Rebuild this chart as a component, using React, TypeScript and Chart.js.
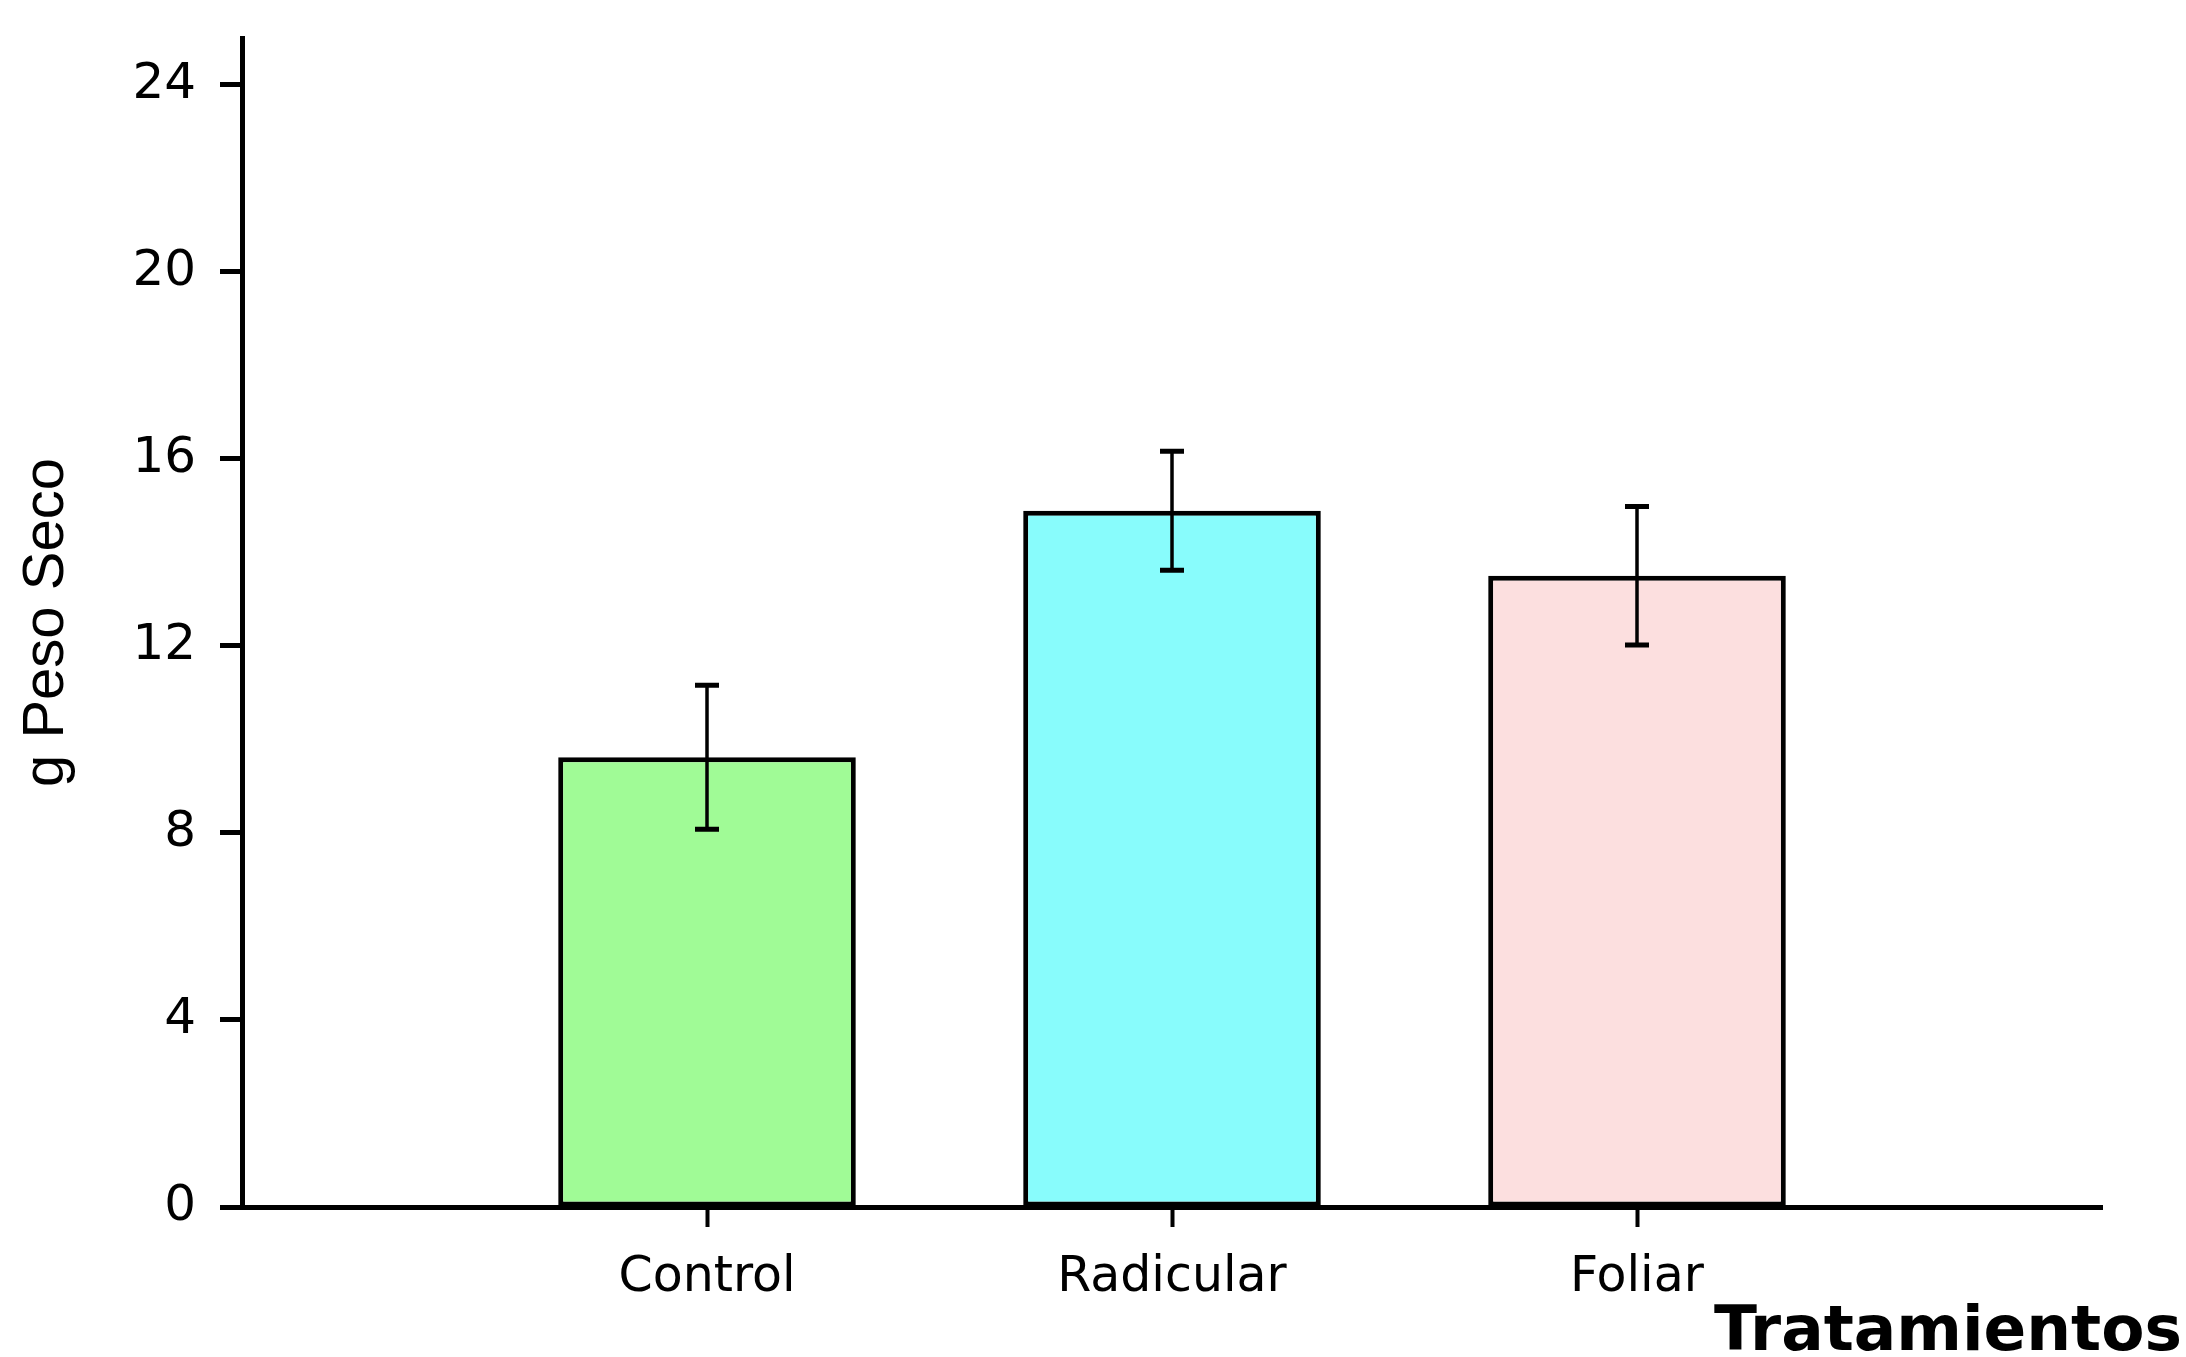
import React, { useEffect, useRef } from 'react';
import { Chart, registerables } from 'chart.js';

Chart.register(...registerables);

const categories = ['Control', 'Radicular', 'Foliar'];
const means = [9.62, 14.89, 13.5];
const errors = [1.54, 1.27, 1.48];
const barColors = ['#A0FB96', '#88FCFC', '#FCDFDF'];
const yTicks = [0, 4, 8, 12, 16, 20, 24];
const yMax = 25;
const xTitle = 'Tratamientos';
const yTitle = 'g Peso Seco';

export default function App() {
  const ref = useRef<HTMLCanvasElement>(null);

  useEffect(() => {
    document.body.style.margin = '0';
    document.body.style.overflow = 'hidden';
    if (!ref.current) return;

    const labels = ['', ...categories, ''];
    const data = [null, ...means, null];
    const colors = ['transparent', ...barColors, 'transparent'];

    const errorBars = {
      id: 'errorBars',
      afterDatasetsDraw(chart: any) {
        const xs = chart.scales.x;
        const ys = chart.scales.y;
        const ctx = chart.ctx;
        ctx.save();
        ctx.strokeStyle = '#000';
        ctx.lineCap = 'butt';
        means.forEach((m, i) => {
          const px = xs.getPixelForValue(i + 1);
          const top = ys.getPixelForValue(m + errors[i]);
          const bot = ys.getPixelForValue(m - errors[i]);
          ctx.lineWidth = 3.5;
          ctx.beginPath();
          ctx.moveTo(px, top);
          ctx.lineTo(px, bot);
          ctx.stroke();
          ctx.lineWidth = 5;
          ctx.beginPath();
          ctx.moveTo(px - 12, top);
          ctx.lineTo(px + 12, top);
          ctx.moveTo(px - 12, bot);
          ctx.lineTo(px + 12, bot);
          ctx.stroke();
        });
        ctx.restore();
      },
    };

    const xTitlePlugin = {
      id: 'xTitlePlugin',
      afterDraw(chart: any) {
        const ctx = chart.ctx;
        const area = chart.chartArea;
        ctx.save();
        ctx.font = 'bold 63px "DejaVu Sans"';
        ctx.fillStyle = '#000';
        ctx.textAlign = 'right';
        ctx.textBaseline = 'alphabetic';
        ctx.fillText(xTitle, area.right + 80, area.bottom + 143);
        ctx.restore();
      },
    };

    const chart = new Chart(ref.current, {
      type: 'bar',
      data: {
        labels,
        datasets: [
          {
            data,
            backgroundColor: colors,
            borderColor: '#000',
            borderWidth: 5,
            borderSkipped: false,
            categoryPercentage: 1,
            barPercentage: 0.64,
          },
        ],
      },
      options: {
        animation: false,
        responsive: true,
        maintainAspectRatio: false,
        layout: { padding: { top: 38, right: 84, left: 0, bottom: 0 } },
        plugins: {
          legend: { display: false },
          tooltip: { enabled: false },
        },
        scales: {
          x: {
            type: 'category',
            offset: false,
            grid: {
              display: true,
              offset: false,
              drawOnChartArea: false,
              drawTicks: true,
              tickLength: 20,
              tickWidth: 4,
              tickColor: (c: any) => (c.index === 0 || c.index === labels.length - 1 ? 'rgba(0,0,0,0)' : '#000'),
            },
            border: { display: true, color: '#000', width: 5 },
            ticks: {
              color: '#000',
              padding: 22,
              maxRotation: 0,
              autoSkip: false,
              font: { family: '"DejaVu Sans"', size: 49 },
            },
            afterFit: (s: any) => {
              s.height = 150;
              s.paddingLeft = 0;
              s.paddingRight = 0;
            },
          },
          y: {
            min: 0,
            max: yMax,
            grid: {
              display: true,
              drawOnChartArea: false,
              drawTicks: true,
              tickLength: 22,
              tickWidth: 5,
              tickColor: '#000',
            },
            border: { display: true, color: '#000', width: 5 },
            ticks: {
              color: '#000',
              padding: 24,
              font: { family: '"DejaVu Sans"', size: 50 },
            },
            afterBuildTicks: (s: any) => {
              s.ticks = yTicks.map((v) => ({ value: v }));
            },
            afterFit: (s: any) => {
              s.width = 242;
              s.paddingTop = 0;
              s.paddingBottom = 0;
            },
            title: {
              display: true,
              text: yTitle,
              color: '#000',
              padding: { top: 12, bottom: 0 },
              font: { family: '"Liberation Sans"', size: 58, weight: 'normal' },
            },
          },
        },
      },
      plugins: [errorBars, xTitlePlugin],
    });

    return () => chart.destroy();
  }, []);

  return (
    <div style={{ position: 'relative', width: '2186px', height: '1357px' }}>
      <canvas ref={ref} />
    </div>
  );
}
